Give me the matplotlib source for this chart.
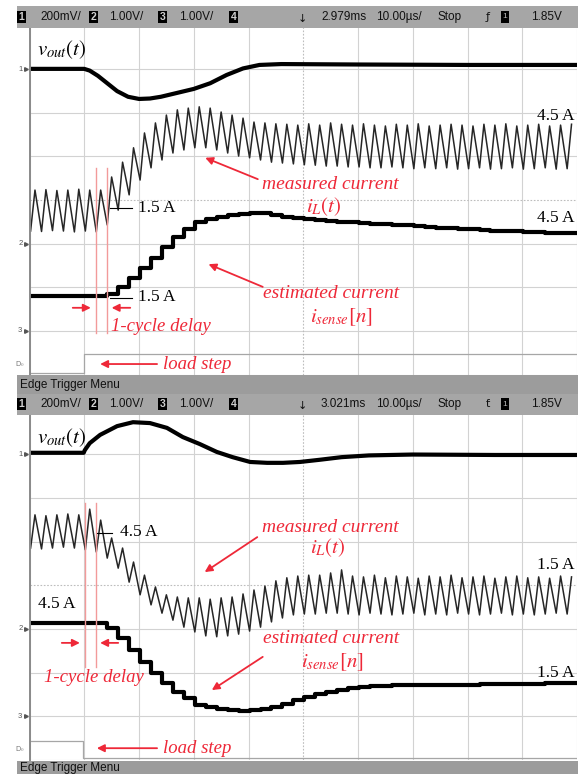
import matplotlib
matplotlib.use("Agg")
import matplotlib.pyplot as plt
import numpy as np
from matplotlib.patches import Rectangle

plt.rcParams['mathtext.fontset'] = 'stix'

# ---- data (time in us, amplitude in screen divisions) ----
PERIOD = 2.0          # switching period, us
T_VALLEY0 = 0.2       # first valley of the inductor current
T_RISE = 0.8          # valley -> peak

TOP_VOUT_T = [0, 10, 11, 12.5, 14, 16, 18, 20, 22, 24, 27, 30, 33, 36, 39, 42, 46, 60, 80, 100]
TOP_VOUT = [7.01, 7.01, 6.97, 6.85, 6.70, 6.50, 6.37, 6.32, 6.33, 6.37, 6.46, 6.55, 6.68,
            6.87, 7.02, 7.10, 7.12, 7.11, 7.10, 7.10]

TOP_IL_VALLEY = [3.29, 3.28, 3.30, 3.29, 3.27, 3.29, 3.27, 3.43, 3.77, 4.12, 4.46, 4.74, 4.92,
                 5.08, 5.15, 5.20, 5.20, 5.15, 5.08, 5.01, 4.97, 4.92, 4.87, 4.85, 4.83, 4.81,
                 4.80, 4.78, 4.78, 4.76, 4.76, 4.74, 4.74, 4.76, 4.74, 4.72, 4.74, 4.72, 4.74,
                 4.71, 4.72, 4.74, 4.71, 4.72, 4.74, 4.71, 4.72, 4.74, 4.71, 4.72]
TOP_IL_PEAK = [4.23, 4.24, 4.22, 4.23, 4.25, 4.23, 4.23, 4.53, 4.87, 5.20, 5.54, 5.77, 5.95,
               6.07, 6.11, 6.14, 6.11, 6.02, 5.95, 5.88, 5.79, 5.77, 5.75, 5.74, 5.72, 5.75,
               5.72, 5.77, 5.74, 5.72, 5.75, 5.72, 5.70, 5.74, 5.72, 5.75, 5.70, 5.72, 5.74,
               5.72, 5.70, 5.74, 5.72, 5.75, 5.70, 5.72, 5.74, 5.70, 5.72, 5.74]
TOP_ISENSE = [1.80, 1.80, 1.80, 1.80, 1.80, 1.80, 1.80, 1.85, 2.01, 2.21, 2.44, 2.67, 2.92,
              3.15, 3.34, 3.50, 3.57, 3.61, 3.66, 3.68, 3.70, 3.70, 3.66, 3.61, 3.59, 3.56,
              3.54, 3.52, 3.50, 3.49, 3.47, 3.46, 3.45, 3.43, 3.42, 3.40, 3.39, 3.37, 3.36,
              3.34, 3.33, 3.31, 3.30, 3.29, 3.28, 3.27, 3.26, 3.25, 3.25, 3.24]
TOP_D0_T = [0, 10, 100]
TOP_D0 = [0.04, 0.47, 0.47]

BOT_VOUT_T = [0, 9.9, 10.1, 11.0, 12.9, 16.0, 18.9, 22.0, 25.1, 28.0, 31.1, 34.2, 37.1, 40.3,
              43.4, 46.3, 49.4, 53, 57, 62, 70, 85, 100]
BOT_VOUT = [7.03, 7.03, 7.09, 7.25, 7.44, 7.64, 7.73, 7.71, 7.60, 7.39, 7.23, 7.05, 6.93, 6.82,
            6.80, 6.80, 6.82, 6.87, 6.93, 6.97, 6.99, 6.98, 6.98]

BOT_IL_VALLEY = [4.85, 4.83, 4.85, 4.87, 4.85, 4.81, 4.76, 4.62, 4.39, 4.07, 3.78, 3.55, 3.36,
                 3.20, 3.04, 2.93, 2.84, 2.82, 2.84, 2.88, 2.95, 3.04, 3.16, 3.25, 3.32, 3.34,
                 3.34, 3.36, 3.36, 3.34, 3.32, 3.36, 3.34, 3.32, 3.34, 3.36, 3.32, 3.34, 3.32,
                 3.36, 3.34, 3.32, 3.34, 3.36, 3.32, 3.34, 3.32, 3.34, 3.36, 3.34]
BOT_IL_PEAK = [5.61, 5.59, 5.61, 5.63, 5.61, 5.74, 5.49, 5.08, 4.85, 4.53, 4.23, 3.96, 3.78,
               3.73, 3.71, 3.71, 3.68, 3.71, 3.73, 3.80, 3.89, 3.98, 4.10, 4.17, 4.21, 4.23,
               4.23, 4.28, 4.35, 4.21, 4.19, 4.23, 4.17, 4.21, 4.19, 4.16, 4.21, 4.19, 4.23,
               4.17, 4.19, 4.21, 4.16, 4.19, 4.21, 4.17, 4.19, 4.16, 4.21, 4.19]
BOT_ISENSE = [3.14, 3.14, 3.13, 3.14, 3.14, 3.14, 3.13, 3.02, 2.79, 2.52, 2.24, 1.99, 1.76,
              1.56, 1.42, 1.26, 1.21, 1.17, 1.14, 1.12, 1.14, 1.17, 1.21, 1.28, 1.37, 1.44,
              1.51, 1.56, 1.60, 1.65, 1.67, 1.69, 1.69, 1.72, 1.72, 1.72, 1.72, 1.72, 1.72,
              1.72, 1.72, 1.74, 1.74, 1.74, 1.74, 1.74, 1.74, 1.76, 1.76, 1.76]
BOT_D0_T = [0, 9.8, 100]
BOT_D0 = [0.43, 0.04, 0.04]

CH_LEVELS = [7, 3, 1]
CH_NAMES = ['1', '2', '3']

TOP_STATUS = ['200mV/', '1.00V/', '1.00V/', '2.979ms', '10.00\u00b5s/', 'Stop', '1.85V']
BOT_STATUS = ['200mV/', '1.00V/', '1.00V/', '3.021ms', '10.00\u00b5s/', 'Stop', '1.85V']

RED = '#ee2838'
RED_LINE = '#f29a9a'
SERIF = ['Liberation Serif', 'DejaVu Serif']
SANS = ['Liberation Sans', 'DejaVu Sans']

W, H = 578, 774
fig = plt.figure(figsize=(W / 100, H / 100), dpi=100)


def fx(px):
    return px / W


def fy(py):
    return 1 - py / H


def make_panel(top_px, bottom_px):
    ax = fig.add_axes([fx(29.5), fy(bottom_px), fx(577) - fx(29.5), fy(top_px) - fy(bottom_px)])
    ax.set_xlim(0, 100)
    ax.set_ylim(0, 8)
    ax.set_xticks([0, 10, 20, 30, 40, 60, 70, 80, 90, 100])
    ax.set_yticks([0, 1, 2, 3, 5, 6, 7, 8])
    ax.tick_params(length=0, labelbottom=False, labelleft=False)
    ax.grid(True, color='#d2d2d2', lw=0.8)
    ax.axvline(50, color='#bdbdbd', lw=0.8, ls=(0, (1.5, 1.5)))
    ax.axhline(4, color='#bdbdbd', lw=0.8, ls=(0, (1.5, 1.5)))
    for s in ax.spines.values():
        s.set_visible(False)
    ax.spines['left'].set_visible(True)
    ax.spines['left'].set_color('#8a8a8a')
    ax.spines['left'].set_linewidth(1.4)
    # channel markers
    for lev, name in zip(CH_LEVELS, CH_NAMES):
        ax.text(-1.3, lev, name, ha='right', va='center', fontsize=5.5, color='#555555',
                clip_on=False, family=SANS)
        ax.plot(-0.6, lev, marker='>', ms=2.6, color='#555555', clip_on=False)
    ax.text(-0.8, 0.25, 'D$_0$', ha='right', va='center', fontsize=5, color='#777777',
            clip_on=False)
    return ax


def draw_traces(ax, vout_t, vout, valley, peak, isense, d0_t, d0):
    n = len(valley)
    tv = T_VALLEY0 + PERIOD * np.arange(n)
    tp = tv + T_RISE
    t = np.column_stack([tv, tp]).ravel()
    y = np.column_stack([valley, peak]).ravel()
    ax.plot(t, y, color='#262626', lw=1.1)
    ts = tv.copy()
    ts[0] = 0
    ax.step(np.append(ts, 100), np.append(isense, isense[-1]), where='post',
            color='black', lw=3.0)
    ax.plot(vout_t, vout, color='black', lw=3.0)
    ax.step(d0_t, d0, where='post', color='#a6a6a6', lw=0.9)
    return tv


def arrow(ax, tail, head):
    ax.annotate('', xy=head, xytext=tail,
                arrowprops=dict(arrowstyle='-|>', color=RED, lw=1.3, mutation_scale=11,
                                shrinkA=0, shrinkB=0))


def status_bar(y_px, items, edge):
    fig.add_artist(Rectangle((fx(16.6), fy(y_px + 10.5)), 1 - fx(16.6), 21 / H,
                             transform=fig.transFigure, fc='#a6a6a6', ec='none'))
    for x, num in [(21.5, '1'), (93.5, '2'), (162.5, '3'), (233.5, '4')]:
        fig.text(fx(x), fy(y_px), num, ha='center', va='center', fontsize=7.5, color='#d0d0d0',
                 weight='bold', family=SANS,
                 bbox=dict(boxstyle='square,pad=0.12', fc='black', ec='none'))
    xs = [40, 109, 179, 321, 376, 437, 531]
    for x, s in zip(xs, items):
        fig.text(fx(x), fy(y_px), s, ha='left', va='center', fontsize=8.5, color='#111111',
                 family=SANS)
    fig.text(fx(302), fy(y_px + 2), '\u2193', ha='center', va='center', fontsize=8,
             color='#111111')
    fig.text(fx(488), fy(y_px), edge, ha='center', va='center', fontsize=8, color='#111111',
             family=['DejaVu Sans'])
    fig.text(fx(505), fy(y_px), '1', ha='center', va='center', fontsize=6, color='#bbbbbb',
             family=SANS, bbox=dict(boxstyle='square,pad=0.25', fc='black', ec='none'))


def menu_bar(y0_px, y1_px, text_y):
    fig.add_artist(Rectangle((fx(16.6), fy(y1_px)), 1 - fx(16.6), (y1_px - y0_px) / H,
                             transform=fig.transFigure, fc='#9c9c9c', ec='none'))
    fig.text(fx(20), fy(text_y), 'Edge Trigger Menu', ha='left', va='center', fontsize=8.5,
             color='#111111', family=SANS)


# ---- top panel: load step up ----
ax1 = make_panel(25.7, 374.5)
tv1 = draw_traces(ax1, TOP_VOUT_T, TOP_VOUT, TOP_IL_VALLEY, TOP_IL_PEAK, TOP_ISENSE,
                  TOP_D0_T, TOP_D0)
for k in (6, 7):
    ax1.plot([tv1[k], tv1[k]], [0.95, 4.74], color=RED_LINE, lw=1.0)
ax1.text(1.4, 7.44, r'$v_{out}(t)$', fontsize=15, va='center', ha='left')
ax1.plot([14.7, 18.7], [3.82, 3.82], color='black', lw=0.8)
ax1.text(19.8, 3.82, '1.5 A', fontsize=12.5, va='center', family=SERIF)
ax1.plot([14.7, 18.7], [1.75, 1.75], color='black', lw=0.8)
ax1.text(19.8, 1.77, '1.5 A', fontsize=12.5, va='center', family=SERIF)
ax1.text(99.6, 5.93, '4.5 A', fontsize=12.5, va='center', ha='right', family=SERIF)
ax1.text(99.6, 3.59, '4.5 A', fontsize=12.5, va='center', ha='right', family=SERIF)
ax1.text(55.0, 4.35, 'measured current', fontsize=14, color=RED, style='italic',
         ha='center', va='center', family=SERIF)
ax1.text(53.8, 3.84, r'$i_L(t)$', fontsize=15, color=RED, ha='center', va='center')
ax1.text(55.0, 1.85, 'estimated current', fontsize=14, color=RED, style='italic',
         ha='center', va='center', family=SERIF)
ax1.text(57.0, 1.32, r'$i_{sense}[n]$', fontsize=15, color=RED, ha='center', va='center')
arrow(ax1, (41.7, 4.48), (32.1, 4.97))
arrow(ax1, (42.6, 2.01), (32.7, 2.53))
arrow(ax1, (7.9, 1.53), (11.2, 1.53))
arrow(ax1, (18.4, 1.53), (15.0, 1.53))
ax1.text(24.0, 1.09, '1-cycle delay', fontsize=13.5, color=RED, style='italic',
         ha='center', va='center', family=SERIF)
arrow(ax1, (23.3, 0.24), (12.9, 0.24))
ax1.text(24.4, 0.24, 'load step', fontsize=13.5, color=RED, style='italic',
         ha='left', va='center', family=SERIF)

# ---- bottom panel: load step down ----
ax2 = make_panel(410.4, 760)
tv2 = draw_traces(ax2, BOT_VOUT_T, BOT_VOUT, BOT_IL_VALLEY, BOT_IL_PEAK, BOT_ISENSE,
                  BOT_D0_T, BOT_D0)
for k in (5, 6):
    ax2.plot([tv2[k], tv2[k]], [2.13, 5.88], color=RED_LINE, lw=1.0)
ax2.text(1.4, 7.38, r'$v_{out}(t)$', fontsize=15, va='center', ha='left')
ax2.plot([12.3, 15.1], [5.19, 5.19], color='black', lw=0.8)
ax2.text(16.5, 5.22, '4.5 A', fontsize=12.5, va='center', family=SERIF)
ax2.text(1.6, 3.56, '4.5 A', fontsize=12.5, va='center', family=SERIF)
ax2.text(99.6, 4.46, '1.5 A', fontsize=12.5, va='center', ha='right', family=SERIF)
ax2.text(99.6, 1.99, '1.5 A', fontsize=12.5, va='center', ha='right', family=SERIF)
ax2.text(55.0, 5.33, 'measured current', fontsize=14, color=RED, style='italic',
         ha='center', va='center', family=SERIF)
ax2.text(54.5, 4.85, r'$i_L(t)$', fontsize=15, color=RED, ha='center', va='center')
ax2.text(55.0, 2.79, 'estimated current', fontsize=14, color=RED, style='italic',
         ha='center', va='center', family=SERIF)
ax2.text(55.3, 2.24, r'$i_{sense}[n]$', fontsize=15, color=RED, ha='center', va='center')
arrow(ax2, (41.6, 5.10), (32.0, 4.30))
arrow(ax2, (42.6, 2.36), (33.3, 1.60))
arrow(ax2, (5.9, 2.68), (9.2, 2.68))
arrow(ax2, (16.2, 2.68), (12.9, 2.68))
ax2.text(11.7, 1.88, '1-cycle delay', fontsize=13.5, color=RED, style='italic',
         ha='center', va='center', family=SERIF)
arrow(ax2, (23.3, 0.27), (12.3, 0.27))
ax2.text(24.4, 0.27, 'load step', fontsize=13.5, color=RED, style='italic',
         ha='left', va='center', family=SERIF)

# ---- scope status bars ----
status_bar(17, TOP_STATUS, '\u0192')
menu_bar(375.5, 413.5, 385)
status_bar(404, BOT_STATUS, '\u01ad')
menu_bar(761, 774, 768)

fig.savefig('out.png', dpi=100)
